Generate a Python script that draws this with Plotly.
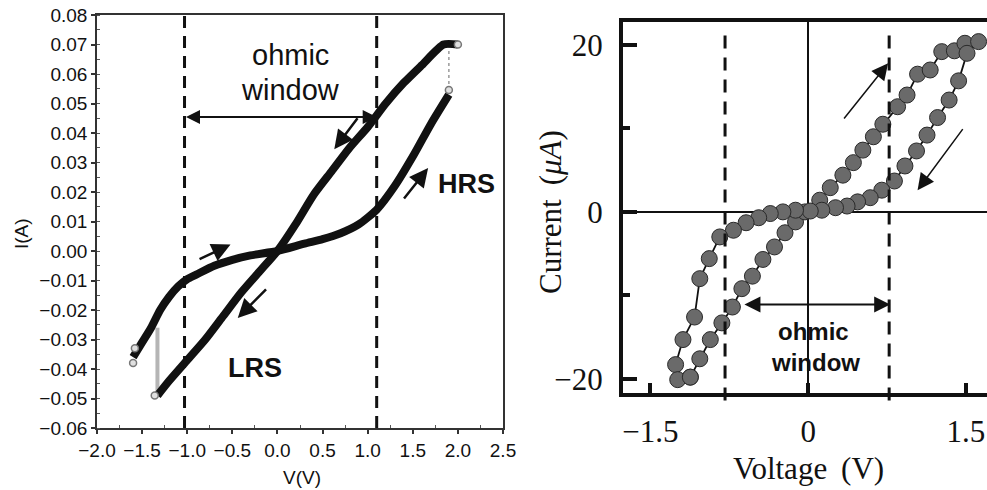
import plotly.graph_objects as go

# ---------------- Left panel data ----------------
lrs_v = [2.00, 1.84, 1.6, 1.4, 1.2, 1.0, 0.8, 0.6, 0.4, 0.2, 0.0, -0.2, -0.4, -0.6, -0.8, -1.0, -1.2, -1.33]
lrs_i = [0.070, 0.070, 0.063, 0.057, 0.050, 0.042, 0.035, 0.027, 0.019, 0.009, 0.000, -0.007, -0.014, -0.022, -0.030, -0.037, -0.044, -0.049]
hrs_v = [1.90, 1.7, 1.5, 1.3, 1.1, 0.9, 0.7, 0.5, 0.3, 0.0, -0.3, -0.5, -0.7, -0.9, -1.0, -1.1, -1.2, -1.3, -1.4, -1.5, -1.6]
hrs_i = [0.053, 0.043, 0.032, 0.022, 0.014, 0.009, 0.006, 0.004, 0.0025, 0.0, -0.0015, -0.003, -0.005, -0.008, -0.0095, -0.012, -0.0155, -0.020, -0.026, -0.031, -0.036]
end_v = [2.00, 1.90, -1.36, -1.58, -1.60]
end_i = [0.070, 0.0546, -0.049, -0.033, -0.038]
jump_pos_v = [1.90, 1.90]
jump_pos_i = [0.0546, 0.070]
jump_neg_v = [-1.33, -1.33]
jump_neg_i = [-0.049, -0.026]
left_window = [-1.03, 1.10]
left_xticks = [-2.0, -1.5, -1.0, -0.5, 0.0, 0.5, 1.0, 1.5, 2.0, 2.5]
left_xlabels = ["\u22122.0", "\u22121.5", "\u22121.0", "\u22120.5", "0.0", "0.5", "1.0", "1.5", "2.0", "2.5"]
left_yticks = [0.08, 0.07, 0.06, 0.05, 0.04, 0.03, 0.02, 0.01, 0.0, -0.01, -0.02, -0.03, -0.04, -0.05, -0.06]
left_ylabels = ["0.08", "0.07", "0.06", "0.05", "0.04", "0.03", "0.02", "0.01", "0.00",
                "\u22120.01", "\u22120.02", "\u22120.03", "\u22120.04", "\u22120.05", "\u22120.06"]

# ---------------- Right panel data ----------------
loop_v = [-1.12, -1.03, -0.93, -0.82, -0.72, -0.63, -0.53, -0.43, -0.32, -0.22, -0.12, -0.03,
          0.11, 0.21, 0.33, 0.43, 0.52, 0.62, 0.71, 0.85, 0.94, 1.04, 1.16, 1.27, 1.39, 1.49, 1.62,
          1.51, 1.43, 1.34, 1.23, 1.13, 1.03, 0.92, 0.82, 0.70, 0.59, 0.47, 0.37, 0.26, 0.13, 0.02,
          -0.12, -0.24, -0.36, -0.47, -0.59, -0.71, -0.84, -0.94, -1.03, -1.08, -1.19, -1.26, -1.24, -1.12]
loop_i = [-19.8, -17.6, -15.3, -13.3, -11.4, -9.2, -7.7, -5.7, -4.2, -2.5, -1.2, 0.0,
          1.4, 2.9, 4.4, 5.9, 7.4, 9.0, 10.5, 12.6, 14.0, 16.5, 17.0, 19.2, 19.3, 20.2, 20.4,
          19.0, 15.7, 13.4, 11.3, 9.2, 7.3, 5.5, 3.7, 2.6, 1.7, 1.2, 0.7, 0.5, 0.2, 0.1,
          0.2, 0.0, -0.2, -0.7, -1.3, -2.2, -3.0, -5.6, -8.0, -12.6, -15.3, -18.3, -20.1, -19.8]
right_window = [-0.79, 0.77]
right_xticks = [-1.5, 0, 1.5]
right_xlabels = ["\u22121.5", "0", "1.5"]
right_yticks = [20, 0, -20]
right_ylabels = ["20", "0", "\u221220"]

W, H = 987, 490
def px(x): return x / W
def py(y): return 1 - y / H

fig = go.Figure()

# left panel traces
fig.add_trace(go.Scatter(x=jump_pos_v, y=jump_pos_i, mode="lines", line=dict(color="#9a9a9a", width=1.5, dash="dot"),
                         xaxis="x", yaxis="y", showlegend=False))
fig.add_trace(go.Scatter(x=jump_neg_v, y=jump_neg_i, mode="lines", line=dict(color="#b5b5b5", width=4),
                         xaxis="x", yaxis="y", showlegend=False))
fig.add_trace(go.Scatter(x=lrs_v, y=lrs_i, mode="lines", line=dict(color="#111", width=8, shape="spline", smoothing=0.6),
                         xaxis="x", yaxis="y", showlegend=False))
fig.add_trace(go.Scatter(x=hrs_v, y=hrs_i, mode="lines", line=dict(color="#111", width=8, shape="spline", smoothing=0.6),
                         xaxis="x", yaxis="y", showlegend=False))
fig.add_trace(go.Scatter(x=end_v, y=end_i, mode="markers",
                         marker=dict(size=7, color="#e0e0e0", line=dict(color="#777", width=1.5)),
                         xaxis="x", yaxis="y", showlegend=False))

# right panel trace
fig.add_trace(go.Scatter(x=loop_v, y=loop_i, mode="lines+markers",
                         line=dict(color="#111", width=1.8),
                         marker=dict(size=16, color="#6a6a6a", line=dict(color="#2a2a2a", width=1)),
                         xaxis="x2", yaxis="y2", showlegend=False))

shapes = []
for v in left_window:
    shapes.append(dict(type="line", xref="x", yref="y domain", x0=v, x1=v, y0=0, y1=1,
                       line=dict(color="#111", width=3, dash="12px,8px")))
for v in right_window:
    shapes.append(dict(type="line", xref="x2", yref="y2 domain", x0=v, x1=v, y0=-0.02, y1=0.985,
                       line=dict(color="#111", width=3, dash="13px,9px")))

ann = []
def arrow(xr, yr, x0, y0, x1, y1, width, size, side="end"):
    ann.append(dict(xref=xr, yref=yr, axref=xr, ayref=yr, x=x1, y=y1, ax=x0, ay=y0, text="",
                    showarrow=True, arrowhead=2, arrowsize=size, arrowwidth=width, arrowcolor="#111",
                    arrowside=side, standoff=0, startstandoff=0))

# left arrows
arrow("x", "y", 0.90, 0.0455, 0.63, 0.0345, 2.5, 1.5)
arrow("x", "y", 1.39, 0.0173, 1.67, 0.0281, 2.5, 1.5)
arrow("x", "y", -0.88, -0.0030, -0.52, 0.0022, 2.5, 1.5)
arrow("x", "y", -0.11, -0.0125, -0.44, -0.0227, 2.5, 1.5)
arrow("x", "y", left_window[0], 0.0454, left_window[1], 0.0454, 2, 1.4, "end+start")
# right arrows
arrow("x2", "y2", 0.33, 11.0, 0.76, 17.8, 1.5, 2.2)
arrow("x2", "y2", 1.48, 10.1, 1.04, 2.6, 1.5, 2.2)
arrow("x2", "y2", -0.62, -11.1, 0.78, -11.1, 2, 1.6, "end+start")

sans = "Liberation Sans, Arial, sans-serif"
serif = "Liberation Serif, Times New Roman, serif"

def txt(x, y, s, size, fam, xref="paper", yref="paper", angle=0):
    ann.append(dict(xref=xref, yref=yref, x=x, y=y, text=s, showarrow=False, textangle=angle,
                    font=dict(family=fam, size=size, color="#111"), xanchor="center", yanchor="middle"))

txt(0.15, 0.0664, "ohmic", 29, sans, "x", "y")
txt(0.15, 0.0546, "window", 29, sans, "x", "y")
txt(px(466), py(184), "<b>HRS</b>", 27, sans)
txt(px(255), py(368), "<b>LRS</b>", 27, sans)
txt(px(302), py(477), "V(V)", 19, sans)
txt(px(22), py(234), "I(A)", 19, sans, angle=-90)
txt(0.05, -14.3, "<b>ohmic</b>", 24, sans, "x2", "y2")
txt(0.07, -18.0, "<b>window</b>", 24, sans, "x2", "y2")
txt(px(808), py(468), "Voltage\u2009 (V)", 31, serif)
txt(px(550), py(212), "Current\u2009 (<i>\u03bcA</i>)", 31, serif, angle=-90)

fig.update_layout(
    width=W, height=H, margin=dict(l=0, r=0, t=0, b=0, autoexpand=False),
    paper_bgcolor="white", plot_bgcolor="white",
    shapes=shapes, annotations=ann,
    xaxis=dict(domain=[px(97), px(503)], range=[-2.0, 2.5], showgrid=False, zeroline=False, automargin=False,
               showline=True, linecolor="#333", linewidth=1.5, mirror=True,
               tickmode="array", tickvals=left_xticks, ticktext=left_xlabels,
               ticks="outside", ticklen=4, tickwidth=1.5, tickcolor="#333",
               minor=dict(tickvals=[-1.75, -1.25, -0.75, -0.25, 0.25, 0.75, 1.25, 1.75, 2.25],
                          ticks="inside", ticklen=3, tickwidth=1, tickcolor="#555"),
               tickfont=dict(family=sans, size=19, color="#111"), anchor="y"),
    yaxis=dict(domain=[py(428), py(15)], range=[-0.06, 0.08], showgrid=False, zeroline=False, automargin=False,
               showline=True, linecolor="#333", linewidth=1.5, mirror=True,
               tickmode="array", tickvals=left_yticks, ticktext=left_ylabels,
               ticks="outside", ticklen=4, tickwidth=1.5, tickcolor="#333",
               minor=dict(dtick=0.005, tick0=0.0, ticks="inside", ticklen=3, tickwidth=1, tickcolor="#555"),
               tickfont=dict(family=sans, size=19, color="#111"), anchor="x"),
    xaxis2=dict(domain=[px(623), 1.0], range=[-1.76, 1.70], showgrid=False, automargin=False,
                zeroline=True, zerolinecolor="#111", zerolinewidth=1.5,
                showline=True, linecolor="#111", linewidth=4, mirror=True,
                tickmode="array", tickvals=right_xticks, ticktext=right_xlabels,
                ticks="inside", ticklen=10, tickwidth=4, tickcolor="#111", ticklabelstandoff=8,
                tickfont=dict(family=serif, size=31, color="#111"), anchor="y2"),
    yaxis2=dict(domain=[py(393), py(22)], range=[-21.7, 22.75], showgrid=False, automargin=False,
                zeroline=True, zerolinecolor="#111", zerolinewidth=1.5,
                showline=True, linecolor="#111", linewidth=4, mirror=False,
                tickmode="array", tickvals=right_yticks, ticktext=right_ylabels,
                ticks="inside", ticklen=14, tickwidth=4, tickcolor="#111", ticklabelstandoff=10,
                minor=dict(tickvals=[10, -10], ticks="inside", ticklen=7, tickwidth=4, tickcolor="#111"),
                tickfont=dict(family=serif, size=31, color="#111"), anchor="x2"),
)

fig.write_html("out.html")
